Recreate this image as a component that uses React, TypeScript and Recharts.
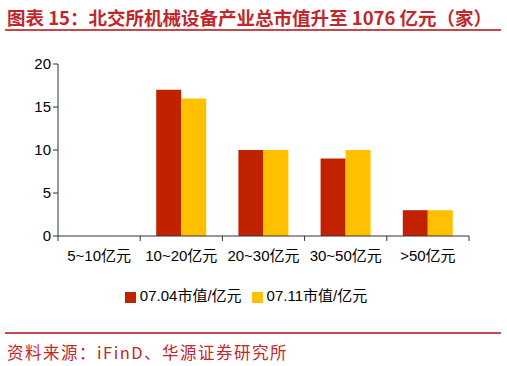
import { Bar, BarChart, Legend, XAxis, YAxis } from "recharts";

const categories = ["5~10亿元", "10~20亿元", "20~30亿元", "30~50亿元", ">50亿元"];
const cap0704 = [0, 17, 10, 9, 3];
const cap0711 = [0, 16, 10, 10, 3];
const yTicks = [0, 5, 10, 15, 20];

const data = categories.map((name, i) => ({
  name,
  a: cap0704[i],
  b: cap0711[i],
}));

const W = 507;
const H = 366;
const M = { top: 64, right: 38, left: 8, bottom: 100 };
const Y_W = 50;
const BAND = (W - M.left - M.right - Y_W) / categories.length;

const RED = "#c02200";
const YELLOW = "#ffc000";
const AXIS = "#333333";
const FONT = "'Liberation Sans', Arial, 'Noto Sans CJK SC', sans-serif";

const CatTick = (props: any) => {
  const { x, y, payload, index } = props;
  const top = y - 8;
  return (
    <g>
      <line x1={x - BAND / 2} y1={top} x2={x - BAND / 2} y2={top + 5} stroke={AXIS} />
      {index === categories.length - 1 && (
        <line x1={x + BAND / 2} y1={top} x2={x + BAND / 2} y2={top + 5} stroke={AXIS} />
      )}
      <text x={x} y={top + 25} textAnchor="middle" fontSize={15} fill="#000" fontFamily={FONT}>
        {payload.value}
      </text>
    </g>
  );
};

const App = () => (
  <div
    style={{
      position: "absolute",
      left: 0,
      top: 0,
      width: W,
      height: H,
      background: "#fff",
      fontFamily: FONT,
    }}
  >
    <div
      style={{
        position: "absolute",
        left: 7,
        top: 4,
        fontSize: 18.5,
        fontWeight: "bold",
        color: "#c0282d",
        fontFamily: "'Noto Sans CJK SC', sans-serif",
        whiteSpace: "nowrap",
      }}
    >
      图表 15：北交所机械设备产业总市值升至 1076 亿元（家）
    </div>
    <div style={{ position: "absolute", left: 5, top: 29, width: 496, height: 2, background: "#c8474a" }} />
    <BarChart
      width={W}
      height={H}
      data={data}
      margin={M}
      barCategoryGap="20%"
      barGap={0}
      style={{ position: "absolute", left: 0, top: 0 }}
    >
      <XAxis
        dataKey="name"
        height={30}
        axisLine={{ stroke: AXIS }}
        tickLine={false}
        interval={0}
        tick={<CatTick />}
      />
      <YAxis
        width={Y_W}
        domain={[0, 20]}
        ticks={yTicks}
        interval={0}
        axisLine={{ stroke: AXIS }}
        tickLine={{ stroke: AXIS }}
        tickSize={5}
        tick={{ fill: "#000", fontSize: 15, fontFamily: FONT }}
      />
      <Legend
        layout="horizontal"
        verticalAlign="middle"
        align="center"
        iconType="square"
        iconSize={11}
        wrapperStyle={{ position: "absolute", left: 101, width: 300, top: 284, fontSize: 15, fontFamily: FONT }}
        formatter={(v) => <span style={{ color: "#000" }}>{v}</span>}
      />
      <Bar dataKey="a" name="07.04市值/亿元" fill={RED} barSize={25} isAnimationActive={false} />
      <Bar dataKey="b" name="07.11市值/亿元" fill={YELLOW} barSize={25} isAnimationActive={false} />
    </BarChart>
    <div style={{ position: "absolute", left: 5, top: 332, width: 496, height: 2, background: "#c8474a" }} />
    <div
      style={{
        position: "absolute",
        left: 7,
        top: 340,
        fontSize: 16.5,
        color: "#c0282d",
        fontFamily: "'Noto Sans CJK SC', sans-serif",
        whiteSpace: "nowrap",
        letterSpacing: 1.5,
      }}
    >
      资料来源：iFinD、华源证券研究所
    </div>
  </div>
);

export default App;
